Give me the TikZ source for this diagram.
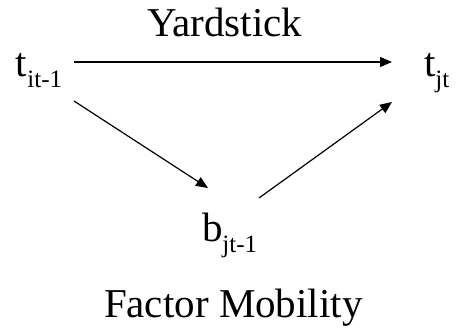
\documentclass[tikz,border=0pt]{standalone}
\usepackage{fontspec}
\setmainfont{Liberation Serif}
\usetikzlibrary{arrows.meta,calc}
\newcommand\mysub[1]{\raisebox{-11pt}{\fontsize{25}{25}\selectfont #1}}
\begin{document}
\begin{tikzpicture}[x=1pt,y=-1pt,
  lab/.style={inner sep=0pt,outer sep=0pt,anchor=base west,font=\fontsize{41}{49}\selectfont},
  arr/.style={line width=1.2pt,-{Triangle[length=12pt,width=10pt]}}]
\useasboundingbox (0,0) rectangle (459,334);
\node[lab] (ta) at (16,77) {t\mysub{it-1}};
\node[lab] (tb) at (424,77) {t\mysub{jt}};
\node[lab] (bj) at (202,242) {b\mysub{jt-1}};
\node[lab] (yard) at (147,37) {Yardstick};
\node[lab] (fm) at (104,318) {Factor Mobility};
\draw[arr] ($(ta.base west)+(58,-15)$) -- ($(tb.base west)+(-32,-15)$);
\draw[arr] ($(ta.base west)+(58,24)$) -- ($(bj.base west)+(6,-54)$);
\draw[arr] ($(bj.base west)+(57,-44)$) -- ($(tb.base west)+(-32,25)$);
\end{tikzpicture}
\end{document}
